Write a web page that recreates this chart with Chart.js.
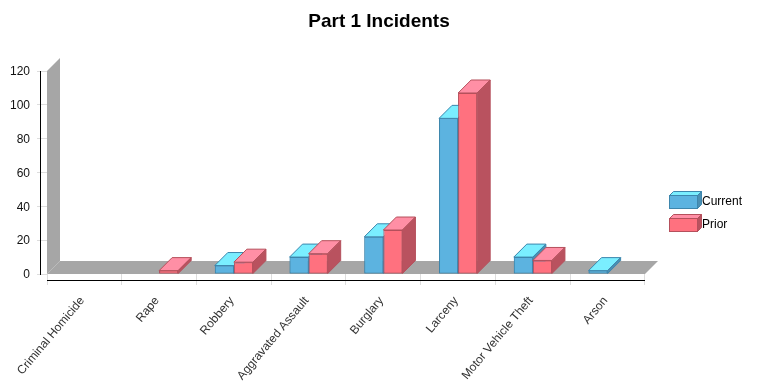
<!DOCTYPE html>
<html lang="en">
  <head>
    <meta charset="UTF-8" />
    <title>Part 1 Incidents</title>
    <script src="https://cdn.jsdelivr.net/npm/chart.js"></script>
    <style>
      html, body { margin: 0; padding: 0; background: #fff; }
      #box { width: 758px; height: 386px; }
    </style>
  </head>
  <body>
    <div id="box"><canvas id="myChart" width="758" height="386"></canvas></div>
    <script>
      const categories = ["Criminal Homicide", "Rape", "Robbery", "Aggravated Assault", "Burglary", "Larceny", "Motor Vehicle Theft", "Arson"];
      const current = [0, 0, 5, 10, 22, 92, 10, 2];
      const prior = [0, 2, 7, 12, 26, 107, 8, 0];
      const yTicks = [0, 20, 40, 60, 80, 100, 120];

      const DEPTH = 13;
      const colors = [
        { front: "#5cb3e0", top: "#7aeeff", side: "#4b8fb3", edge: "#3d86ad" },
        { front: "#ff717f", top: "#ff8fa5", side: "#b9525f", edge: "#b5505c" },
      ];

      function poly(ctx, pts, fill, stroke) {
        ctx.beginPath();
        pts.forEach((p, i) => (i ? ctx.lineTo(p[0], p[1]) : ctx.moveTo(p[0], p[1])));
        ctx.closePath();
        ctx.fillStyle = fill;
        ctx.fill();
        if (stroke) {
          ctx.strokeStyle = stroke;
          ctx.lineWidth = 1;
          ctx.stroke();
        }
      }

      // little 3d box for the legend
      function legendBox(c) {
        const cv = document.createElement("canvas");
        cv.width = 34;
        cv.height = 21;
        const g = cv.getContext("2d");
        poly(g, [[0.5, 4.5], [4.5, 0.5], [32.5, 0.5], [28.5, 4.5]], c.top, c.edge);
        poly(g, [[28.5, 4.5], [32.5, 0.5], [32.5, 13.5], [28.5, 17.5]], c.side, c.edge);
        g.fillStyle = c.front;
        g.fillRect(0.5, 4.5, 28, 13);
        g.strokeStyle = c.edge;
        g.strokeRect(0.5, 4.5, 28, 13);
        return cv;
      }

      const walls = {
        id: "walls",
        beforeDatasetsDraw(chart) {
          const { ctx, chartArea: a } = chart;
          const y = chart.scales.y;
          const top = y.getPixelForValue(120);
          const base = y.getPixelForValue(0);
          poly(ctx, [[a.left, top], [a.left + DEPTH, top - DEPTH], [a.left + DEPTH, base - DEPTH], [a.left, base]], "#a6a6a6");
          poly(ctx, [[a.left, base], [a.left + DEPTH, base - DEPTH], [a.right + DEPTH, base - DEPTH], [a.right, base]], "#a6a6a6");
        },
        // chart.js paints the first dataset last, so repaint left to right with the depth faces
        afterDatasetsDraw(chart) {
          const { ctx } = chart;
          chart.data.datasets.forEach((ds, d) => {
            const c = colors[d];
            chart.getDatasetMeta(d).data.forEach((bar, i) => {
              if (!ds.data[i]) return;
              const p = bar.getProps(["x", "y", "base", "width"], true);
              const l = p.x - p.width / 2;
              const r = p.x + p.width / 2;
              bar.draw(ctx);
              poly(ctx, [[l, p.y], [l + DEPTH, p.y - DEPTH], [r + DEPTH, p.y - DEPTH], [r, p.y]], c.top, c.edge);
              poly(ctx, [[r, p.y], [r + DEPTH, p.y - DEPTH], [r + DEPTH, p.base - DEPTH], [r, p.base]], c.side, c.edge);
            });
          });
        },
        afterDraw(chart) {
          const { ctx, chartArea: a } = chart;
          ctx.save();
          ctx.strokeStyle = "#000";
          ctx.lineWidth = 1;
          ctx.beginPath();
          ctx.moveTo(40.5, a.top);
          ctx.lineTo(40.5, a.bottom + 1);
          ctx.moveTo(a.left, a.bottom + 6.5);
          ctx.lineTo(a.right, a.bottom + 6.5);
          ctx.stroke();
          ctx.restore();
        },
        beforeDraw(chart) {
          // legend sits lower than the plot middle in the original
          const lg = chart.legend;
          if (!lg.moved) {
            lg.moved = true;
            lg.left = 665;
            lg.right = 758;
            lg.top += 20;
            lg.bottom += 20;
            chart.titleBlock.right = 758;
          }
        },
      };

      new Chart(document.getElementById("myChart"), {
        type: "bar",
        data: {
          labels: categories,
          datasets: [
            { label: "Current", data: current, backgroundColor: colors[0].front, borderColor: colors[0].edge, borderWidth: 1, borderSkipped: false },
            { label: "Prior", data: prior, backgroundColor: colors[1].front, borderColor: colors[1].edge, borderWidth: 1, borderSkipped: false },
          ],
        },
        options: {
          responsive: false,
          animation: false,
          events: [],
          layout: { padding: { right: 26 } },
          categoryPercentage: 0.51,
          barPercentage: 1,
          plugins: {
            tooltip: { enabled: false },
            title: {
              display: true,
              text: "Part 1 Incidents",
              color: "#000",
              font: { family: "Liberation Sans", size: 19, weight: "bold" },
              padding: { top: 10, bottom: 38.2 },
            },
            legend: {
              position: "right",
              labels: {
                usePointStyle: true,
                color: "#000",
                boxHeight: 12,
                pointStyleWidth: 20,
                padding: 11,
                textAlign: "left",
                font: { family: "Liberation Sans", size: 12 },
                generateLabels(chart) {
                  return chart.data.datasets.map((d, i) => ({
                    text: d.label,
                    fontColor: "#000",
                    pointStyle: legendBox(colors[i]),
                    datasetIndex: i,
                    lineWidth: 0,
                  }));
                },
              },
            },
          },
          scales: {
            x: {
              grid: { drawOnChartArea: false, tickLength: 11, color: "#dddddd", offset: true },
              border: { display: false },
              afterFit(s) { s.height = 112; },
              ticks: {
                maxRotation: 50,
                minRotation: 50,
                autoSkip: false,
                padding: 9,
                labelOffset: -2,
                color: "#333",
                font: { family: "Liberation Sans", size: 12 },
              },
            },
            y: {
              min: 0,
              max: 120,
              afterBuildTicks(s) { s.ticks = yTicks.map((v) => ({ value: v })); },
              afterFit(s) { s.width = 47; },
              grid: { drawOnChartArea: false, tickLength: 10, color: "#dddddd" },
              border: { display: false },
              ticks: { padding: 7, labelOffset: 1, color: "#111", font: { family: "Liberation Sans", size: 12 } },
            },
          },
        },
        plugins: [walls],
      });
    </script>
  </body>
</html>
